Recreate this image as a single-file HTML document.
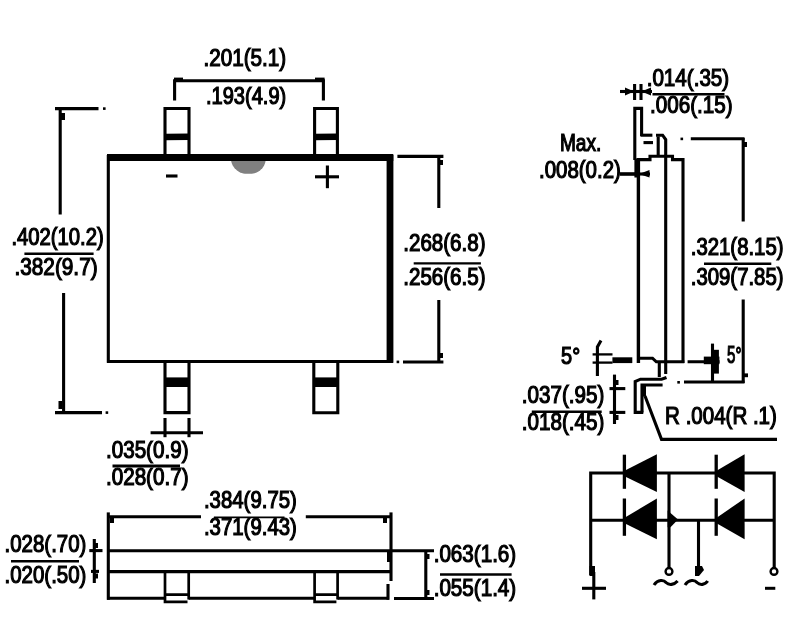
<!DOCTYPE html>
<html>
<head>
<meta charset="utf-8">
<title>Package outline drawing</title>
<style>
html,body{margin:0;padding:0;background:#fff;}
body{width:794px;height:617px;overflow:hidden;}
svg{display:block;filter:blur(0.7px);}
.l{stroke:#000;stroke-width:3.1;fill:none;stroke-linecap:butt;stroke-linejoin:miter;}
.t{font-family:"Liberation Sans",sans-serif;font-size:23.2px;fill:#000;stroke:#000;stroke-width:1.2;}
.s{font-family:"Liberation Sans",sans-serif;font-size:17px;fill:#000;stroke:#000;stroke-width:0.5;}
</style>
</head>
<body>
<svg width="794" height="617" viewBox="0 0 794 617">
<rect x="0" y="0" width="794" height="617" fill="#fff"/>

<!-- ===== FRONT VIEW ===== -->
<g id="front">
  <!-- notch -->
  <path d="M230.6 158 H266 C265.5 164 263.5 167.5 260 170.5 C257 173 254 173.8 248.5 173.8 C243 173.8 240 173 237 170.5 C233.5 167.5 231.2 164 230.6 158 Z" fill="#808080"/>
  <!-- body -->
  <line class="l" x1="108.3" y1="155" x2="108.3" y2="362.8"/>
  <line class="l" x1="107" y1="361.5" x2="393" y2="361.5"/>
  <line x1="107" y1="157.4" x2="393.3" y2="157.4" stroke="#000" stroke-width="7"/>
  <line x1="390" y1="155" x2="390" y2="362.8" stroke="#000" stroke-width="6.8"/>
  <!-- top pins -->
  <path class="l" d="M165 157 V108.5 H189 V157"/>
  <line x1="165" y1="137" x2="189" y2="136.8" stroke="#000" stroke-width="6.6"/>
  <path class="l" d="M314.6 157 V108.5 H337.4 V157"/>
  <line x1="314.6" y1="137" x2="337.4" y2="136.8" stroke="#000" stroke-width="6.6"/>
  <!-- bottom pins -->
  <path class="l" d="M165 361.5 V412.6 H189 V361.5"/>
  <line x1="165" y1="382.2" x2="189" y2="382.2" stroke="#000" stroke-width="9.6"/>
  <path class="l" d="M313.8 361.5 V412.8 H337.8 V361.5"/>
  <line x1="313.8" y1="382.2" x2="337.8" y2="382.2" stroke="#000" stroke-width="9.6"/>
  <!-- polarity marks -->
  <line class="l" x1="166" y1="176" x2="177.5" y2="176"/>
  <line class="l" x1="315" y1="176.8" x2="339" y2="176.8"/>
  <line class="l" x1="327.4" y1="165.5" x2="327.4" y2="188.2"/>
</g>

<!-- ===== DIMENSIONS FRONT ===== -->
<g id="dimfront">
  <!-- top pin pitch -->
  <path class="l" d="M174.6 100.5 V80.8 H323.4 V100.5"/>
  <rect x="174" y="77.6" width="9" height="4" fill="#000"/>
  <rect x="315" y="77.6" width="9.6" height="4" fill="#000"/>
  <!-- left height -->
  <line class="l" x1="55" y1="108.6" x2="98.5" y2="108.6"/>
  <rect x="103" y="107.3" width="2.6" height="2.6" fill="#000"/>
  <line class="l" x1="60.2" y1="108" x2="60.2" y2="214.5"/>
  <rect x="60" y="113" width="5" height="7" fill="#000"/>
  <line class="l" x1="63.6" y1="293" x2="63.6" y2="413"/>
  <rect x="58.5" y="401" width="4" height="8" fill="#000"/>
  <line class="l" x1="55" y1="412.6" x2="102" y2="412.6"/>
  <rect x="105.6" y="411.3" width="2.6" height="2.6" fill="#000"/>
  <!-- right body height -->
  <line class="l" x1="397.4" y1="156.4" x2="443.4" y2="156.4"/>
  <line class="l" x1="438.8" y1="156" x2="438.8" y2="208"/>
  <rect x="438" y="160" width="5" height="5" fill="#000"/>
  <line class="l" x1="438.8" y1="300" x2="438.8" y2="363"/>
  <rect x="438" y="353" width="5" height="5" fill="#000"/>
  <line class="l" x1="403" y1="362" x2="443.4" y2="362"/>
  <rect x="396.6" y="360.6" width="2.6" height="2.6" fill="#000"/>
  <!-- pin width -->
  <line class="l" x1="150.6" y1="432.8" x2="203" y2="432.8"/>
  <line class="l" x1="165" y1="418" x2="165" y2="437.2"/>
  <line class="l" x1="189" y1="418" x2="189" y2="437.2"/>
</g>

<!-- ===== BOTTOM VIEW ===== -->
<g id="bottom">
  <line class="l" x1="108.3" y1="512.4" x2="108.3" y2="599.8"/>
  <line class="l" x1="107" y1="516.7" x2="201" y2="516.7"/>
  <line class="l" x1="305.8" y1="516.7" x2="392" y2="516.7"/>
  <rect x="110" y="518" width="4" height="5" fill="#000"/>
  <rect x="383" y="518" width="4" height="5" fill="#000"/>
  <line class="l" x1="391" y1="512.4" x2="391" y2="581"/>
  <line class="l" x1="388" y1="584" x2="388" y2="599.8"/>
  <rect x="387" y="552" width="5" height="10" fill="#000"/>
  <line class="l" x1="107" y1="550.8" x2="434" y2="550.8"/>
  <line class="l" x1="89.3" y1="550.6" x2="102.5" y2="550.6"/>
  <line class="l" x1="107" y1="571.6" x2="392" y2="571.6"/>
  <line class="l" x1="91" y1="571.4" x2="99" y2="571.4"/>
  <path class="l" d="M107 598.3 H165 M188.7 598.3 H314.6 M337.6 598.3 H389"/>
  <line class="l" x1="394" y1="598.5" x2="434" y2="598.5"/>
  <path class="l" d="M165 571.6 V601.8 H187.5 M188.7 571.6 V599.5 M165 594.6 H188.7" style="stroke-width:2.7"/>
  <path class="l" d="M314.6 571.6 V601.8 H336.4 M337.6 571.6 V599.5 M314.6 594.6 H337.6" style="stroke-width:2.7"/>
  <!-- left thickness dim -->
  <line class="l" x1="94.3" y1="539" x2="94.3" y2="583"/>
  <rect x="94" y="543" width="4" height="5" fill="#000"/>
  <rect x="94" y="573.5" width="4" height="5" fill="#000"/>
  <!-- width dim text -->
  <!-- right dim -->
  <line class="l" x1="425.8" y1="550" x2="425.8" y2="599"/>
  <rect x="425" y="554" width="4.5" height="5" fill="#000"/>
  <rect x="425" y="590" width="4.5" height="5" fill="#000"/>
</g>

<!-- ===== SIDE VIEW ===== -->
<g id="side">
  <!-- lead thickness dim -->
  <line class="l" x1="620" y1="91.5" x2="652" y2="91.5"/>
  <path d="M634 91.5 L625 87.6 V95.4 Z M641.5 91.5 L651 87.6 V95.4 Z" fill="#000"/>
  <line class="l" x1="634.6" y1="84" x2="634.6" y2="100"/>
  <line class="l" x1="641" y1="84" x2="641" y2="100"/>
  <!-- top lead -->
  <path class="l" d="M634.8 160 V108.4 H641.6 V136"/>
  <line class="l" x1="640.5" y1="135.2" x2="652.4" y2="135.2"/>
  <line class="l" x1="643.5" y1="142.6" x2="653" y2="142.6"/>
  <path class="l" d="M656 135.2 H662.6 L665.7 139.6 V374"/>
  <line class="l" x1="658.2" y1="136.5" x2="658.2" y2="156.5"/>
  <!-- body outline -->
  <path class="l" d="M637 159.6 H650 V156.2 H672.5 V159.6 H683 V363"/>
  <line x1="638.4" y1="158" x2="638.4" y2="363" stroke="#000" stroke-width="3.4"/>
  <rect x="634.4" y="158.5" width="5.6" height="19" fill="#000"/>
  <path class="l" d="M637 358.2 H652.5 L656.3 361.8 H684.3"/>
  <!-- bottom lead -->
  <line class="l" x1="659.3" y1="361" x2="659.3" y2="377"/>
  <path class="l" d="M666.5 377.5 L661.6 379.2 H640.5 L635.2 381.5 V412.4 H643.3"/>
  <path class="l" d="M662.6 385 H642 V412.4"/>
  <rect x="641" y="384" width="5" height="12.5" fill="#000"/>
  <!-- Max dim -->
  <line x1="620" y1="174" x2="637" y2="174" stroke="#000" stroke-width="3.6"/>
  <path d="M639 174 L649.5 170 V177.5 Z" fill="#000"/>
  <line class="l" x1="638" y1="174" x2="650" y2="174"/>
  <!-- right height dim -->
  <rect x="680.5" y="137.6" width="2.6" height="2.6" fill="#000"/>
  <line class="l" x1="690.8" y1="138.8" x2="744.5" y2="138.8"/>
  <line class="l" x1="743.2" y1="138" x2="743.2" y2="221.5"/>
  <rect x="742.5" y="142" width="4.5" height="5" fill="#000"/>
  <line class="l" x1="743.2" y1="299.5" x2="743.2" y2="383"/>
  <rect x="743" y="373.4" width="5" height="3.8" fill="#000"/>
  <line class="l" x1="684" y1="382" x2="744.5" y2="382"/>
  <rect x="677.3" y="381" width="2.6" height="2.6" fill="#000"/>
  <!-- 5 deg right -->
  <line class="l" x1="687.6" y1="361.8" x2="719.5" y2="361.8"/>
  <line class="l" x1="712.5" y1="343.6" x2="712.5" y2="382"/>
  <rect x="711.3" y="349.8" width="7.6" height="23.8" fill="#000"/>
  <rect x="703.8" y="356.6" width="15.6" height="7.6" fill="#000"/>
  <!-- 5 deg left -->
  <path class="l" d="M597.4 376 V347 L601 340.6"/>
  <line class="l" x1="592.6" y1="354.4" x2="612.5" y2="354.4" style="stroke-width:2.3"/>
  <line class="l" x1="592.6" y1="362.6" x2="612.5" y2="362.6" style="stroke-width:2.3"/>
  <line x1="612.4" y1="360.2" x2="632.3" y2="360.2" stroke="#000" stroke-width="5.8"/>
  <!-- .037 dim -->
  <line class="l" x1="614.5" y1="374.6" x2="614.5" y2="424"/>
  <line class="l" x1="609.5" y1="388.6" x2="625.3" y2="388.6"/>
  <line class="l" x1="609.5" y1="412.4" x2="625.3" y2="412.4"/>
  <rect x="614" y="380" width="4.5" height="5" fill="#000"/>
  <rect x="614" y="415" width="4.5" height="5" fill="#000"/>
  <!-- radius leader -->
  <path class="l" d="M645 396 L661.5 439.4 H777"/>
</g>

<g id="labels">
  <text class="t" transform="translate(203.41,66.3) scale(0.8924,1)">.201(5.1)</text>
  <text class="t" transform="translate(205.90,103.7) scale(0.8652,1)">.193(4.9)</text>
  <text class="t" transform="translate(11.40,244.8) scale(0.8742,1)">.402(10.2)</text>
  <text class="t" transform="translate(14.43,275.2) scale(0.8966,1)">.382(9.7)</text>
  <text class="t" transform="translate(403.26,251.3) scale(0.8864,1)">.268(6.8)</text>
  <text class="t" transform="translate(403.26,285.2) scale(0.8864,1)">.256(6.5)</text>
  <text class="t" transform="translate(105.96,457.7) scale(0.8897,1)">.035(0.9)</text>
  <text class="t" transform="translate(105.96,484.7) scale(0.8897,1)">.028(0.7)</text>
  <text class="t" transform="translate(4.51,552.0) scale(0.8825,1)">.028(.70)</text>
  <text class="t" transform="translate(4.51,582.5) scale(0.8825,1)">.020(.50)</text>
  <text class="t" transform="translate(203.96,508.4) scale(0.8784,1)">.384(9.75)</text>
  <text class="t" transform="translate(203.96,535.4) scale(0.8784,1)">.371(9.43)</text>
  <text class="t" transform="translate(433.66,562.0) scale(0.8897,1)">.063(1.6)</text>
  <text class="t" transform="translate(433.66,596.0) scale(0.8897,1)">.055(1.4)</text>
  <text class="t" transform="translate(646.66,86.3) scale(0.8897,1)">.014(.35)</text>
  <text class="t" transform="translate(650.06,112.6) scale(0.8897,1)">.006(.15)</text>
  <text class="t" transform="translate(559.93,150.6) scale(0.8236,1)">Max.</text>
  <text class="t" transform="translate(539.02,177.6) scale(0.8813,1)">.008(0.2)</text>
  <text class="t" transform="translate(690.77,254.8) scale(0.8773,1)">.321(8.15)</text>
  <text class="t" transform="translate(690.77,285.2) scale(0.8773,1)">.309(7.85)</text>
  <text class="t" transform="translate(521.77,403.4) scale(0.8885,1)">.037(.95)</text>
  <text class="t" transform="translate(521.77,430.4) scale(0.8885,1)">.018(.45)</text>
  <text class="t" transform="translate(665.12,423.8) scale(0.8845,1)">R .004(R .1)</text>
  <text class="t" transform="translate(561.10,363.5) scale(0.8611,1)">5°</text>
  <text class="t" transform="translate(727.00,363.2) scale(0.6496,1)">5°</text>
  <line x1="24.4" y1="253.8" x2="93.6" y2="253.8" stroke="#000" stroke-width="2.4"/>
  <line x1="413.7" y1="263.4" x2="480.9" y2="263.4" stroke="#000" stroke-width="2.4"/>
  <line x1="112.5" y1="466" x2="180" y2="466" stroke="#000" stroke-width="2.8"/>
  <line x1="11" y1="561.3" x2="79" y2="561.3" stroke="#000" stroke-width="2.4"/>
  <line x1="213.9" y1="517.4" x2="284.5" y2="517.4" stroke="#000" stroke-width="1.6"/>
  <line x1="440" y1="574.5" x2="511.6" y2="574.5" stroke="#000" stroke-width="2.4"/>
  <line x1="652.5" y1="94.3" x2="724.5" y2="94.3" stroke="#000" stroke-width="2.4"/>
  <line x1="704" y1="263.8" x2="771.3" y2="263.8" stroke="#000" stroke-width="2.4"/>
  <line x1="531.8" y1="411.7" x2="601.7" y2="411.7" stroke="#000" stroke-width="2.6"/>
</g>

<!-- ===== SCHEMATIC ===== -->
<g id="schem">
  <path class="l" d="M590.7 575 V473 H774.2 V567.5"/>
  <line class="l" x1="590.7" y1="520.3" x2="774.2" y2="520.3"/>
  <line class="l" x1="669" y1="473" x2="669" y2="567.5"/>
  <line class="l" x1="698.5" y1="520.3" x2="698.5" y2="567.5"/>
  <!-- diodes -->
  <line class="l" x1="624.4" y1="454.7" x2="624.4" y2="488.8" style="stroke-width:3.3"/>
  <path d="M625 470.6 L656.9 454.3 V492 L625 476.4 Z" fill="#000"/>
  <line class="l" x1="716.2" y1="454.7" x2="716.2" y2="488.8" style="stroke-width:3.3"/>
  <path d="M717 470.6 L744.6 454.3 V492 L717 476.4 Z" fill="#000"/>
  <line class="l" x1="624.4" y1="498.5" x2="624.4" y2="535.8" style="stroke-width:3.3"/>
  <path d="M625 517.4 L656.9 498.6 V539.2 L625 523.4 Z" fill="#000"/>
  <line class="l" x1="716.2" y1="498.5" x2="716.2" y2="535.8" style="stroke-width:3.3"/>
  <path d="M717 517.4 L744.6 498.6 V539.2 L717 523.4 Z" fill="#000"/>
  <path d="M667.6 510.5 L678 519.6 L670.5 527.2 H667.6 Z" fill="#000"/>
  <!-- terminals -->
  <circle cx="669" cy="571.4" r="3.4" fill="none" stroke="#000" stroke-width="2.4"/>
  <circle cx="774" cy="571.4" r="3.4" fill="none" stroke="#000" stroke-width="2.4"/>
  <path d="M695 566 H702 L704 570 L699 576 H695 Z" fill="#000"/>
  <rect x="589.5" y="566" width="5.5" height="10" fill="#000"/>
  <!-- symbols -->
  <line class="l" x1="582" y1="588.3" x2="606" y2="588.3"/>
  <line class="l" x1="593.8" y1="572" x2="593.8" y2="599.4"/>
  <path class="l" style="stroke-width:3.1" d="M654 585 C658 579 664 580 666 582.5 C669 585.5 674 585 677.6 581"/>
  <path class="l" style="stroke-width:3.1" d="M685 585 C689 579 695 580 697 582.5 C700 585.5 705 585 707.7 581"/>
  <line class="l" x1="765" y1="588.3" x2="775.3" y2="588.3" style="stroke-width:3"/>
</g>
</svg>
</body>
</html>
